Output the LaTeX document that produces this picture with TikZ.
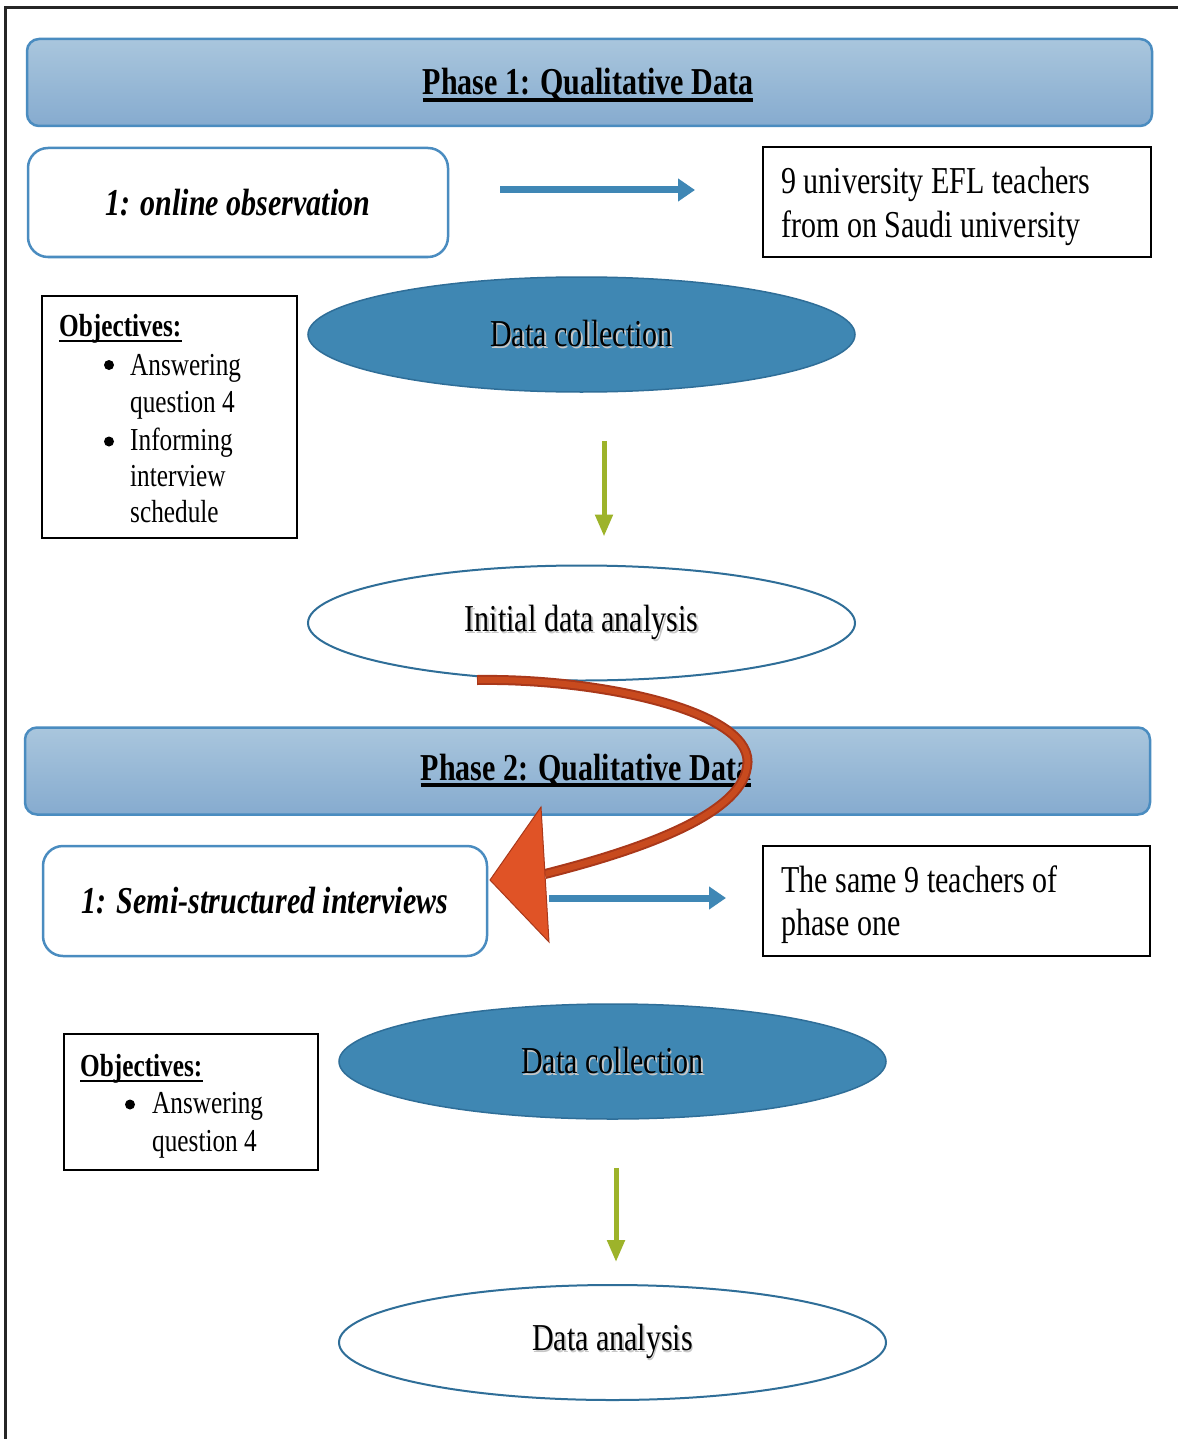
\documentclass[tikz,border=0pt]{standalone}
\usepackage{fontspec}
\setmainfont{Liberation Serif}[FakeStretch=0.79]
\usetikzlibrary{arrows.meta,shapes.geometric}

\definecolor{bannerTop}{HTML}{A9C6DD}
\definecolor{bannerBot}{HTML}{86ABCF}
\definecolor{bannerEdge}{HTML}{4A8CC0}
\definecolor{flowblue}{HTML}{3F87B5}
\definecolor{ellfill}{HTML}{3F87B3}
\definecolor{elledge}{HTML}{2F6E98}
\definecolor{leaf}{HTML}{9DB32A}
\definecolor{rust}{HTML}{C84A1E}
\definecolor{rustdark}{HTML}{A9381A}
\definecolor{flame}{HTML}{E05326}

\newcommand\mainsize{\fontsize{38}{44}\selectfont}
\newcommand\objsize{\fontsize{32}{37}\selectfont}
\newcommand\softshadow[1]{\makebox[0pt][l]{\hspace{1.5pt}\raisebox{-2pt}{\textcolor{black!22}{#1}}}#1}

\begin{document}
\begin{tikzpicture}[x=1pt,y=-1pt,
  every node/.style={font=\mainsize, inner sep=0pt},
  banner/.style={draw=bannerEdge, line width=2.5pt, rounded corners=12pt,
    top color=bannerTop, bottom color=bannerBot,
    minimum width=1125pt, minimum height=87pt},
  phasetitle/.style={font=\mainsize\bfseries, anchor=base},
  taskbox/.style={draw=bannerEdge, line width=2.5pt, rounded corners=20pt,
    fill=white, font=\mainsize\bfseries\itshape},
  infobox/.style={draw=black, line width=2pt, fill=white},
  infoline/.style={anchor=base west},
  objline/.style={anchor=base west, font=\objsize},
  objhead/.style={anchor=base west, font=\objsize\bfseries},
  bulletdot/.style={circle, fill=black, minimum size=10pt},
  stagefilled/.style={ellipse, draw=elledge, line width=1.5pt, fill=ellfill,
    minimum width=547pt, minimum height=115pt},
  stageopen/.style={ellipse, draw=elledge, line width=2pt, fill=white,
    minimum width=547pt, minimum height=115pt},
  flowarrow/.style={draw=flowblue, line width=7pt, -{Triangle[length=17pt,width=22pt]}},
  downarrow/.style={draw=leaf, line width=5pt, -{Triangle[length=22pt,width=17pt]}},
]
\useasboundingbox[fill=white] (0,0) rectangle (1178,1439);

% page frame
\draw[line width=2.5pt, black!85] (5.5,1439) -- (5.5,7.5) -- (1178,7.5);

% ---------------- Phase 1 ----------------
\node[banner] (ph1) at (589.5,82.5) {};
\node[phasetitle] (ph1t) at (588,95) {Phase 1: Qualitative Data};
\draw[line width=4pt] ([yshift=-5pt]ph1t.base west) -- ([yshift=-5pt]ph1t.base east);

\node[taskbox, minimum width=420pt, minimum height=109pt] (obs) at (238,202.5) {1: online observation};

\node[infobox, minimum width=388pt, minimum height=110pt] (cohort) at (957,202) {};
\node[infoline] (cohortA) at (781,194) {9 university EFL teachers};
\node[infoline] (cohortB) at (781,237) {from on Saudi university};

\draw[flowarrow, shorten <=51pt, shorten >=67pt]
  ([yshift=12.5pt]obs.east) -- ([yshift=12pt]cohort.west);

\node[infobox, minimum width=255pt, minimum height=242pt] (objA) at (169.5,417) {};
\node[objhead] (objAh) at (59,336.5) {Objectives:};
\draw[line width=2pt] ([yshift=-4pt]objAh.base west) -- ([yshift=-4pt]objAh.base east);
\node[bulletdot] (objAb1) at (109,365) {};
\node[objline] (objA1) at (130,375) {Answering};
\node[objline] (objA2) at (130,412) {question 4};
\node[bulletdot] (objAb2) at (109,441.5) {};
\node[objline] (objA3) at (130,450) {Informing};
\node[objline] (objA4) at (130,486) {interview};
\node[objline] (objA5) at (130,522) {schedule};

\node[stagefilled] (dcA) at (581.5,334.5) {\softshadow{Data collection}};
\node[stageopen] (idaA) at (581.5,623) {\softshadow{Initial data analysis}};
\draw[downarrow, shorten <=48pt, shorten >=28pt]
  ([xshift=22.5pt]dcA.south) -- ([xshift=22.5pt]idaA.north);

% ---------------- Phase 2 ----------------
\node[banner] (ph2) at (587.5,771) {};
\node[phasetitle] (ph2t) at (586,780) {Phase 2: Qualitative Data};
\draw[line width=4pt] ([yshift=-5pt]ph2t.base west) -- ([yshift=-5pt]ph2t.base east);

\node[taskbox, minimum width=444pt, minimum height=110pt] (semi) at (265,901) {1: Semi-structured interviews};

\node[infobox, minimum width=387pt, minimum height=110pt] (same) at (956.5,901) {};
\node[infoline] (sameA) at (781,892) {The same 9 teachers of};
\node[infoline] (sameB) at (781,935) {phase one};

\draw[flowarrow, shorten <=61pt, shorten >=36pt]
  ([yshift=3pt]semi.east) -- ([yshift=3pt]same.west);

\node[infobox, minimum width=254pt, minimum height=136pt] (objB) at (191,1102) {};
\node[objhead] (objBh) at (80,1076.5) {Objectives:};
\draw[line width=2pt] ([yshift=-4pt]objBh.base west) -- ([yshift=-4pt]objBh.base east);
\node[bulletdot] (objBb1) at (130,1104.5) {};
\node[objline] (objB1) at (152,1113) {Answering};
\node[objline] (objB2) at (152,1151) {question 4};

\node[stagefilled] (dcB) at (612.5,1061.5) {\softshadow{Data collection}};
\node[stageopen] (daB) at (612.5,1342.5) {\softshadow{Data analysis}};
\draw[downarrow, shorten <=48pt, shorten >=22pt]
  ([xshift=3.5pt]dcB.south) -- ([xshift=3.5pt]daB.north);

% ---------------- feedback loop from phase 1 into phase 2 ----------------
\coordinate (loopstart) at (477,680);
\coordinate (loopend) at (545,874);
\draw[line width=10pt, rustdark] (loopstart) .. controls (600,678) and (758,712) .. (747,767)
  .. controls (740,815) and (640,850) .. (loopend);
\draw[line width=6pt, rust] ([xshift=1pt]loopstart) .. controls (600,678) and (758,712) .. (747,767)
  .. controls (740,815) and (640,850) .. (loopend);
\fill[flame, draw=rustdark, line width=1pt, line join=miter] (490,880) -- (541,807) -- (549,942) -- cycle;
\end{tikzpicture}
\end{document}
